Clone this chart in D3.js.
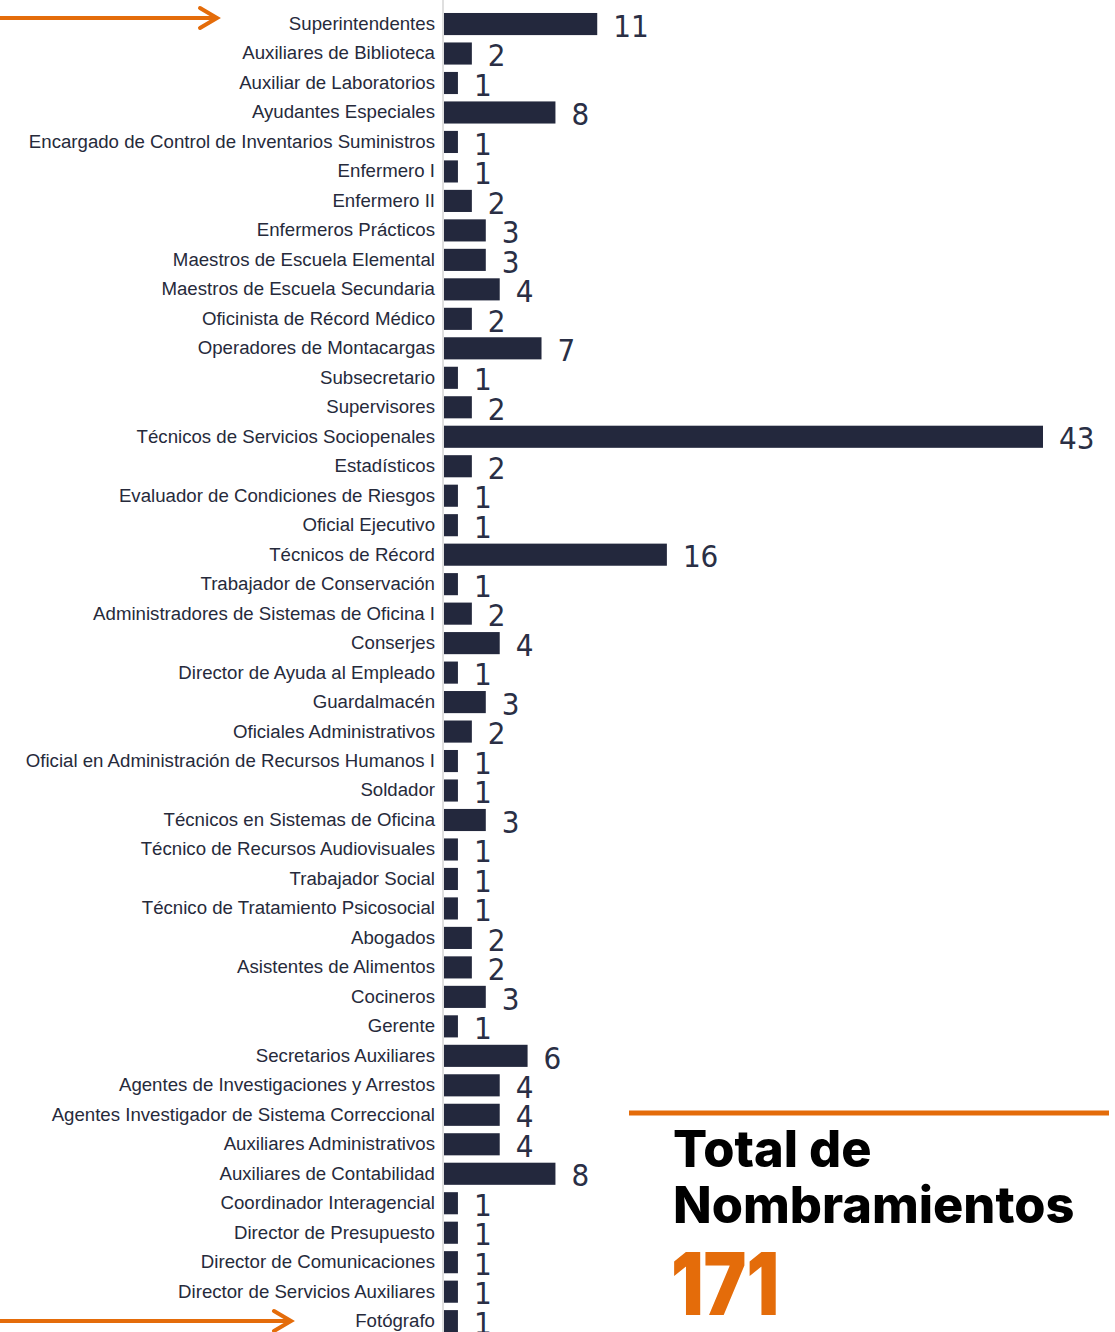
<!DOCTYPE html>
<html>
<head>
<meta charset="utf-8">
<script src="https://cdn.jsdelivr.net/npm/d3@7"></script>
<style>
  body { margin: 0; background: #fff; }
  svg { display: block; }
</style>
</head>
<body>
<div id="chart"></div>
<script>
// puestos y cantidad de nombramientos
var puestos = [
  "Superintendentes", "Auxiliares de Biblioteca", "Auxiliar de Laboratorios",
  "Ayudantes Especiales", "Encargado de Control de Inventarios Suministros",
  "Enfermero I", "Enfermero II", "Enfermeros Prácticos",
  "Maestros de Escuela Elemental", "Maestros de Escuela Secundaria",
  "Oficinista de Récord Médico", "Operadores de Montacargas", "Subsecretario",
  "Supervisores", "Técnicos de Servicios Sociopenales", "Estadísticos",
  "Evaluador de Condiciones de Riesgos", "Oficial Ejecutivo", "Técnicos de Récord",
  "Trabajador de Conservación", "Administradores de Sistemas de Oficina I",
  "Conserjes", "Director de Ayuda al Empleado", "Guardalmacén",
  "Oficiales Administrativos", "Oficial en Administración de Recursos Humanos I",
  "Soldador", "Técnicos en Sistemas de Oficina", "Técnico de Recursos Audiovisuales",
  "Trabajador Social", "Técnico de Tratamiento Psicosocial", "Abogados",
  "Asistentes de Alimentos", "Cocineros", "Gerente", "Secretarios Auxiliares",
  "Agentes de Investigaciones y Arrestos", "Agentes Investigador de Sistema Correccional",
  "Auxiliares Administrativos", "Auxiliares de Contabilidad", "Coordinador Interagencial",
  "Director de Presupuesto", "Director de Comunicaciones",
  "Director de Servicios Auxiliares", "Fotógrafo"
];
var cantidades = [
  11, 2, 1, 8, 1, 1, 2, 3, 3, 4, 2, 7, 1, 2, 43, 2, 1, 1, 16, 1, 2, 4, 1, 3, 2,
  1, 1, 3, 1, 1, 1, 2, 2, 3, 1, 6, 4, 4, 4, 8, 1, 1, 1, 1, 1
];
var tituloTotal = ["Total de", "Nombramientos"];

var data = puestos.map(function(p, i) { return {puesto: p, n: cantidades[i]}; });
var total = d3.sum(cantidades);

var svgwidth = 1115,
    svgheight = 1332,
    x0 = 443;

var svg = d3.select('#chart').append('svg')
    .attr('width', svgwidth)
    .attr('height', svgheight);

var x = d3.scaleLinear().domain([0, 43]).range([x0 + 1, x0 + 1 + 599]);
var y = d3.scaleBand()
    .domain(puestos)
    .range([9.3, 9.3 + 45 * 29.48])
    .paddingInner(0.25)
    .paddingOuter(0.125);

var navy = "#23283d",
    orange = "#e46c0a";

// bars
svg.append("g").selectAll("rect")
    .data(data)
  .enter().append("rect")
    .attr("x", x(0))
    .attr("y", function(d) { return y(d.puesto); })
    .attr("width", function(d) { return x(d.n) - x(0); })
    .attr("height", y.bandwidth())
    .attr("fill", navy);

// axis line + category labels
var yAxis = svg.append("g")
    .attr("transform", "translate(" + x0 + ",0)")
    .call(d3.axisLeft(y).tickSize(0).tickPadding(8));
yAxis.select(".domain").attr("stroke", "#d4d4d4").attr("stroke-width", 1.5)
    .attr("d", "M0,0V" + svgheight);
yAxis.selectAll("text")
    .style("font-family", "'Liberation Sans', Arial, sans-serif")
    .style("font-size", "18.65px")
    .attr("fill", "#262a3b");

// value labels
svg.append("g").selectAll("text")
    .data(data)
  .enter().append("text")
    .attr("x", function(d) { return x(d.n) + 16; })
    .attr("y", function(d) { return y(d.puesto) + y.bandwidth() / 2 + 1.5; })
    .attr("dy", "0.36em")
    .style("font-family", "'DejaVu Sans Condensed', 'DejaVu Sans', sans-serif")
    .style("font-size", "31px")
    .attr("fill", "#2a2f45")
    .text(function(d) { return d.n; });

// orange arrows pointing to first and last puesto
function arrow(xEnd, yy) {
  var g = svg.append("g")
      .attr("stroke", orange)
      .attr("stroke-width", 4)
      .attr("fill", "none");
  g.append("line").attr("x1", 0).attr("x2", xEnd - 2).attr("y1", yy).attr("y2", yy);
  g.append("path")
      .attr("stroke-linecap", "round")
      .attr("stroke-linejoin", "miter")
      .attr("d", "M" + (xEnd - 17) + "," + (yy - 10) + "L" + xEnd + "," + yy + "L" + (xEnd - 17) + "," + (yy + 10));
}
arrow(217, 18);
arrow(291, 1321);

// total box
svg.append("line")
    .attr("x1", 629).attr("x2", 1109)
    .attr("y1", 1113).attr("y2", 1113)
    .attr("stroke", orange)
    .attr("stroke-width", 5);

svg.selectAll(".titulo")
    .data(tituloTotal)
  .enter().append("text")
    .attr("class", "titulo")
    .attr("x", 673)
    .attr("y", function(d, i) { return 1167 + i * 56; })
    .style("font-family", "Inter, 'Noto Sans', sans-serif")
    .style("font-size", "50.5px")
    .style("font-weight", 800)
    .attr("fill", "#000")
    .text(function(d) { return d; });

svg.append("text")
    .attr("x", 671)
    .attr("y", 1315)
    .attr("textLength", 108)
    .attr("lengthAdjust", "spacingAndGlyphs")
    .style("font-family", "Inter, 'Noto Sans', sans-serif")
    .style("font-size", "86px")
    .style("font-weight", 900)
    .attr("fill", orange)
    .text(total);
</script>
</body>
</html>
